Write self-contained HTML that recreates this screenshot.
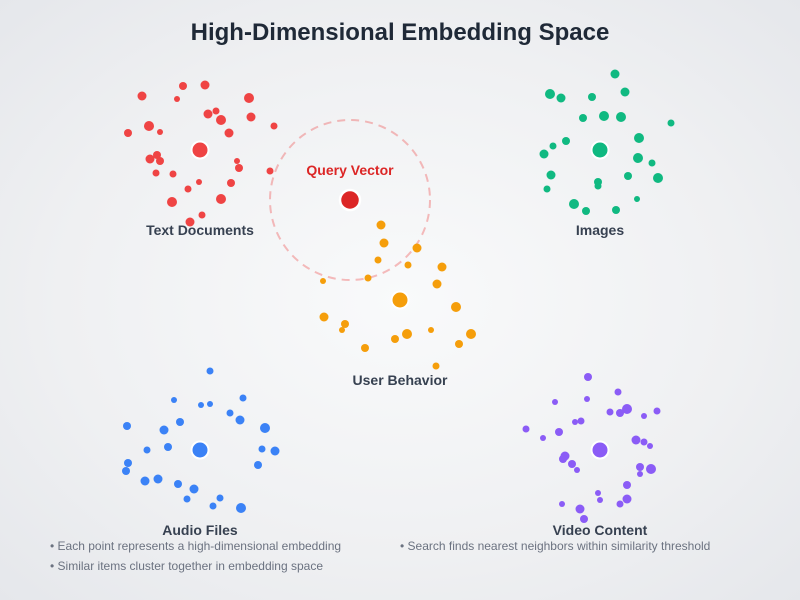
<!DOCTYPE html>
<html><head><meta charset="utf-8"><style>
html,body{margin:0;padding:0;width:800px;height:600px;overflow:hidden}
body{background:radial-gradient(ellipse at 50% 50%,#f9fafb 0%,#eff0f2 60%,#e5e7eb 100%);font-family:"Liberation Sans",sans-serif}
</style></head><body>
<svg width="800" height="600" xmlns="http://www.w3.org/2000/svg" font-family="Liberation Sans, sans-serif">
<text x="400" y="40" text-anchor="middle" font-size="24" font-weight="bold" fill="#1f2937">High-Dimensional Embedding Space</text>
<circle cx="350" cy="200" r="80" fill="none" stroke="#ef4444" stroke-opacity="0.35" stroke-width="2" stroke-dasharray="8,6"/>
<g fill="#ef4444">
<circle cx="142" cy="96" r="4.5"/><circle cx="183" cy="86" r="4"/><circle cx="205" cy="85" r="4.5"/><circle cx="177" cy="99" r="3"/><circle cx="249" cy="98" r="5"/><circle cx="128" cy="133" r="4"/><circle cx="149" cy="126" r="5"/><circle cx="160" cy="132" r="3"/><circle cx="208" cy="114" r="4.5"/><circle cx="216" cy="111" r="3.5"/><circle cx="221" cy="120" r="5"/><circle cx="229" cy="133" r="4.5"/><circle cx="251" cy="117" r="4.5"/><circle cx="274" cy="126" r="3.5"/><circle cx="150" cy="159" r="4.5"/><circle cx="157" cy="155" r="4"/><circle cx="160" cy="161" r="4"/><circle cx="156" cy="173" r="3.5"/><circle cx="173" cy="174" r="3.5"/><circle cx="237" cy="161" r="3"/><circle cx="239" cy="168" r="4"/><circle cx="270" cy="171" r="3.5"/><circle cx="199" cy="182" r="3"/><circle cx="231" cy="183" r="4"/><circle cx="188" cy="189" r="3.5"/><circle cx="172" cy="202" r="5"/><circle cx="221" cy="199" r="5"/><circle cx="202" cy="215" r="3.5"/><circle cx="190" cy="222" r="4.5"/>
<circle cx="200" cy="150" r="8.5" stroke="#fff" stroke-width="2"/>
</g>
<g fill="#f59e0b">
<circle cx="381" cy="225" r="4.5"/><circle cx="384" cy="243" r="4.5"/><circle cx="417" cy="248" r="4.5"/><circle cx="378" cy="260" r="3.5"/><circle cx="408" cy="265" r="3.5"/><circle cx="442" cy="267" r="4.5"/><circle cx="368" cy="278" r="3.5"/><circle cx="323" cy="281" r="3"/><circle cx="437" cy="284" r="4.5"/><circle cx="456" cy="307" r="5"/><circle cx="324" cy="317" r="4.5"/><circle cx="345" cy="324" r="4"/><circle cx="342" cy="330" r="3"/><circle cx="407" cy="334" r="5"/><circle cx="395" cy="339" r="4"/><circle cx="431" cy="330" r="3"/><circle cx="471" cy="334" r="5"/><circle cx="459" cy="344" r="4"/><circle cx="365" cy="348" r="4"/><circle cx="436" cy="366" r="3.5"/>
<circle cx="400" cy="300" r="8.5" stroke="#fff" stroke-width="2"/>
</g>
<g fill="#10b981">
<circle cx="615" cy="74" r="4.5"/><circle cx="550" cy="94" r="5"/><circle cx="561" cy="98" r="4.5"/><circle cx="592" cy="97" r="4"/><circle cx="625" cy="92" r="4.5"/><circle cx="583" cy="118" r="4"/><circle cx="604" cy="116" r="5"/><circle cx="621" cy="117" r="5"/><circle cx="671" cy="123" r="3.5"/><circle cx="639" cy="138" r="5"/><circle cx="544" cy="154" r="4.5"/><circle cx="553" cy="146" r="3.5"/><circle cx="566" cy="141" r="4"/><circle cx="638" cy="158" r="5"/><circle cx="652" cy="163" r="3.5"/><circle cx="551" cy="175" r="4.5"/><circle cx="598" cy="182" r="4"/><circle cx="598" cy="186" r="3.5"/><circle cx="628" cy="176" r="4"/><circle cx="658" cy="178" r="5"/><circle cx="547" cy="189" r="3.5"/><circle cx="574" cy="204" r="5"/><circle cx="586" cy="211" r="4"/><circle cx="616" cy="210" r="4"/><circle cx="637" cy="199" r="3"/>
<circle cx="600" cy="150" r="8.5" stroke="#fff" stroke-width="2"/>
</g>
<g fill="#3b82f6">
<circle cx="210" cy="371" r="3.5"/><circle cx="174" cy="400" r="3"/><circle cx="201" cy="405" r="3"/><circle cx="210" cy="404" r="3"/><circle cx="243" cy="398" r="3.5"/><circle cx="230" cy="413" r="3.5"/><circle cx="240" cy="420" r="4.5"/><circle cx="127" cy="426" r="4"/><circle cx="164" cy="430" r="4.5"/><circle cx="180" cy="422" r="4"/><circle cx="265" cy="428" r="5"/><circle cx="147" cy="450" r="3.5"/><circle cx="168" cy="447" r="4"/><circle cx="262" cy="449" r="3.5"/><circle cx="275" cy="451" r="4.5"/><circle cx="128" cy="463" r="4"/><circle cx="126" cy="471" r="4"/><circle cx="258" cy="465" r="4"/><circle cx="145" cy="481" r="4.5"/><circle cx="158" cy="479" r="4.5"/><circle cx="178" cy="484" r="4"/><circle cx="194" cy="489" r="4.5"/><circle cx="187" cy="499" r="3.5"/><circle cx="220" cy="498" r="3.5"/><circle cx="213" cy="506" r="3.5"/><circle cx="241" cy="508" r="5"/>
<circle cx="200" cy="450" r="8.5" stroke="#fff" stroke-width="2"/>
</g>
<g fill="#8b5cf6">
<circle cx="588" cy="377" r="4"/><circle cx="618" cy="392" r="3.5"/><circle cx="555" cy="402" r="3"/><circle cx="587" cy="399" r="3"/><circle cx="610" cy="412" r="3.5"/><circle cx="620" cy="413" r="4"/><circle cx="627" cy="409" r="5"/><circle cx="644" cy="416" r="3"/><circle cx="657" cy="411" r="3.5"/><circle cx="526" cy="429" r="3.5"/><circle cx="543" cy="438" r="3"/><circle cx="559" cy="432" r="4"/><circle cx="575" cy="422" r="3"/><circle cx="581" cy="421" r="3.5"/><circle cx="636" cy="440" r="4.5"/><circle cx="644" cy="442" r="3.5"/><circle cx="650" cy="446" r="3"/><circle cx="565" cy="456" r="4.5"/><circle cx="563" cy="459" r="4"/><circle cx="572" cy="464" r="4"/><circle cx="577" cy="470" r="3"/><circle cx="640" cy="467" r="4"/><circle cx="651" cy="469" r="5"/><circle cx="640" cy="474" r="3"/><circle cx="627" cy="485" r="4"/><circle cx="598" cy="493" r="3"/><circle cx="600" cy="500" r="3"/><circle cx="562" cy="504" r="3"/><circle cx="580" cy="509" r="4.5"/><circle cx="584" cy="519" r="4"/><circle cx="620" cy="504" r="3.5"/><circle cx="627" cy="499" r="4.5"/>
<circle cx="600" cy="450" r="8.5" stroke="#fff" stroke-width="2"/>
</g>
<circle cx="350" cy="200" r="10" fill="#dc2626" stroke="#fff" stroke-width="2.5"/>
<text x="350" y="175" text-anchor="middle" font-size="14" font-weight="bold" fill="#dc2626">Query Vector</text>
<g font-size="14" font-weight="bold" fill="#374151" text-anchor="middle">
<text x="200" y="235">Text Documents</text>
<text x="600" y="235">Images</text>
<text x="400" y="385">User Behavior</text>
<text x="200" y="535">Audio Files</text>
<text x="600" y="535">Video Content</text>
</g>
<g font-size="12" fill="#6b7280">
<text x="50" y="550">• Each point represents a high-dimensional embedding</text>
<text x="50" y="570">• Similar items cluster together in embedding space</text>
<text x="400" y="550">• Search finds nearest neighbors within similarity threshold</text>
</g>
</svg>
</body></html>
